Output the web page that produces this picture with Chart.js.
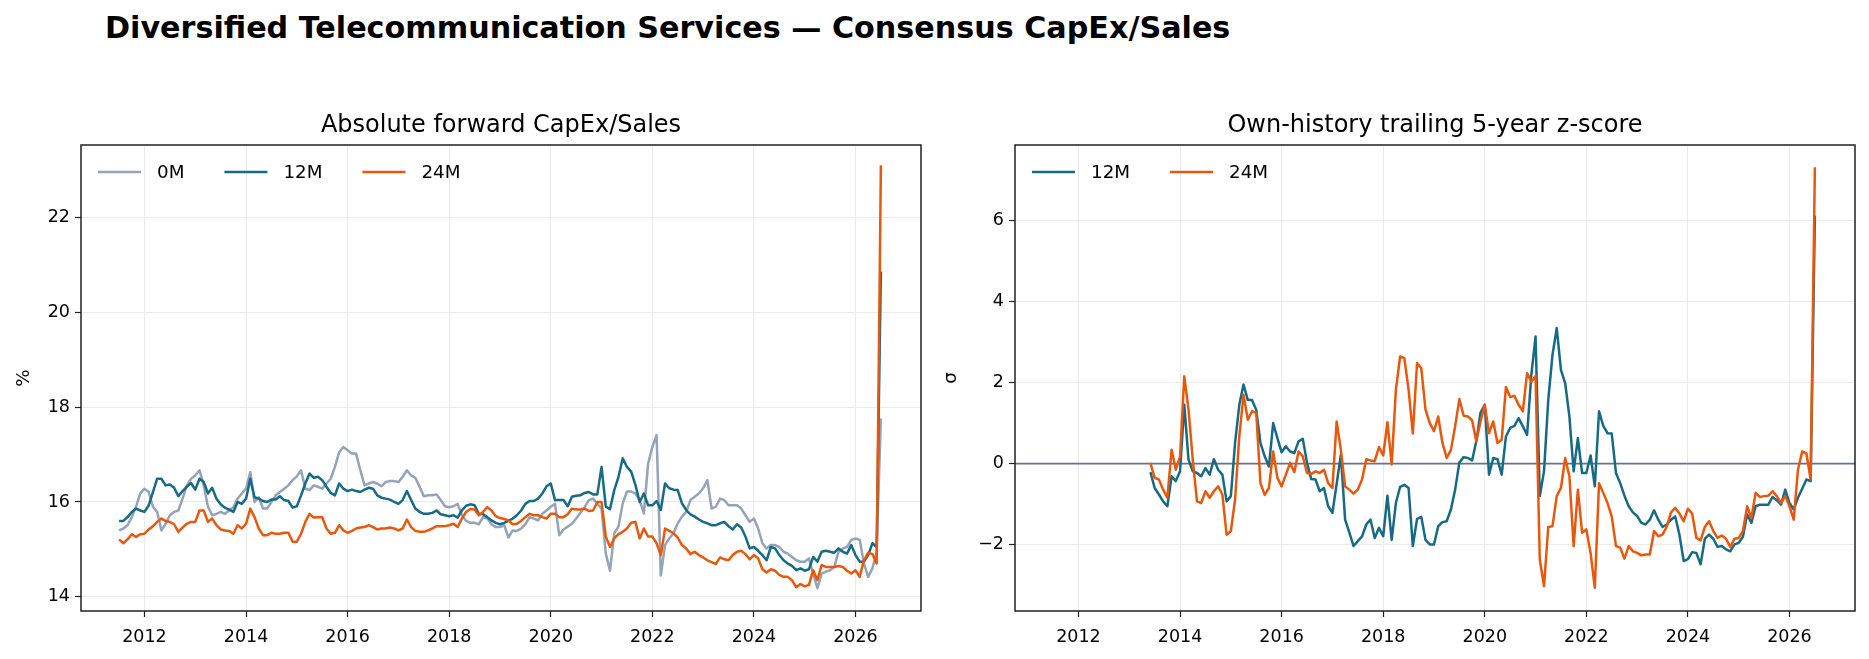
<!DOCTYPE html>
<html>
<head>
<meta charset="utf-8">
<script src="https://cdn.jsdelivr.net/npm/chart.js@4.4.1/dist/chart.umd.min.js"></script>
<style>
  body { margin: 0; background: #fff; width: 1869px; height: 659px; position: relative; overflow: hidden; font-family: "DejaVu Sans", sans-serif; }
  #suptitle { position: absolute; left: 105px; top: 10px; font-weight: bold; font-size: 30.2px; line-height: 35px; color: #000; white-space: nowrap; }
  canvas { position: absolute; top: 0; }
</style>
</head>
<body>
<div id="suptitle">Diversified Telecommunication Services — Consensus CapEx/Sales</div>
<canvas id="absChart" width="935" height="659" style="left:0"></canvas>
<canvas id="zChart" width="934" height="659" style="left:935px"></canvas>
<script>
// monthly observations, first one is Jul 2011
const firstMonth = 2011.5;

// absolute forward CapEx/Sales, %
const capex0M = [
  15.40, 15.44, 15.51, 15.68, 15.90, 16.18, 16.28, 16.21, 15.90, 15.79, 15.40, 15.54, 15.72, 15.79, 15.82, 16.07, 16.35, 16.49, 16.56, 16.67,
  16.35, 15.90, 15.72, 15.75, 15.79, 15.75, 15.82, 15.89, 16.07, 16.18, 16.28, 16.63, 16.00, 16.10, 15.86, 15.86, 16.00, 16.14, 16.21, 16.28,
  16.35, 16.46, 16.54, 16.67, 16.28, 16.25, 16.35, 16.32, 16.28, 16.39, 16.49, 16.74, 17.05, 17.16, 17.09, 17.02, 17.02, 16.67, 16.35, 16.39,
  16.42, 16.39, 16.33, 16.42, 16.44, 16.44, 16.42, 16.53, 16.67, 16.56, 16.51, 16.32, 16.12, 16.14, 16.14, 16.16, 16.04, 15.91, 15.89, 15.91,
  15.96, 15.72, 15.60, 15.56, 15.56, 15.53, 15.68, 15.65, 15.53, 15.47, 15.47, 15.51, 15.25, 15.40, 15.39, 15.44, 15.53, 15.68, 15.65, 15.61,
  15.75, 15.82, 15.90, 15.96, 15.30, 15.42, 15.48, 15.54, 15.65, 15.77, 15.89, 16.04, 16.07, 15.96, 15.86,
  14.91, 14.55, 15.34, 15.48, 15.97, 16.22, 16.22, 16.18, 16.04, 15.76, 16.81, 17.16, 17.41, 14.45, 15.09, 15.23, 15.34, 15.55, 15.69, 15.79,
  16.04, 16.11, 16.18, 16.29, 16.46, 15.86, 15.90, 16.07, 16.04, 15.93, 15.93, 15.93, 15.86, 15.72, 15.58, 15.65, 15.44, 15.13, 15.02, 15.09,
  15.09, 15.05, 14.95, 14.91, 14.84, 14.77, 14.74, 14.74, 14.81, 14.49, 14.18, 14.49, 14.53, 14.56, 14.63, 14.95, 15.02, 15.05, 15.20, 15.23,
  15.20, 14.70, 14.42, 14.60, 14.95, 17.76
];
const capex12M = [
  15.60, 15.60, 15.68, 15.79, 15.86, 15.82, 15.79, 15.93, 16.21, 16.49, 16.49, 16.35, 16.37, 16.30, 16.12, 16.23, 16.32, 16.40, 16.26, 16.49,
  16.42, 16.18, 16.30, 16.07, 15.95, 15.88, 15.84, 15.79, 16.00, 15.96, 16.07, 16.49, 16.10, 16.07, 16.02, 16.00, 16.05, 16.05, 16.12, 16.04,
  16.02, 15.88, 15.91, 16.14, 16.39, 16.60, 16.51, 16.53, 16.46, 16.32, 16.19, 16.14, 16.39, 16.28, 16.23, 16.26, 16.23, 16.21, 16.26, 16.30,
  16.28, 16.14, 16.09, 16.07, 16.05, 16.00, 15.96, 16.04, 16.23, 16.04, 15.86, 15.79, 15.75, 15.75, 15.77, 15.82, 15.74, 15.72, 15.70, 15.72,
  15.67, 15.82, 15.92, 15.95, 15.93, 15.75, 15.74, 15.68, 15.61, 15.56, 15.53, 15.56, 15.60, 15.65, 15.72, 15.82, 15.96, 16.02, 16.02, 16.07,
  16.18, 16.33, 16.39, 16.04, 16.04, 16.04, 15.91, 16.11, 16.13, 16.14, 16.19, 16.21, 16.16,
  16.16, 16.74, 15.90, 15.85, 16.25, 16.53, 16.92, 16.74, 16.64, 16.36, 16.00, 16.18, 15.93, 15.93, 16.02, 15.83, 16.39, 16.29, 16.26, 16.25,
  15.97, 15.83, 15.74, 15.69, 15.63, 15.58, 15.55, 15.51, 15.51, 15.55, 15.58, 15.49, 15.42, 15.53, 15.46, 15.27, 15.02, 15.05, 14.97, 14.88,
  14.77, 15.05, 15.02, 14.88, 14.77, 14.70, 14.65, 14.56, 14.60, 14.55, 14.58, 14.84, 14.74, 14.95, 14.97, 14.95, 14.93, 15.02, 14.95, 14.91,
  15.09, 14.88, 14.74, 14.74, 14.88, 15.13, 15.05, 20.86
];
const capex24M = [
  15.21, 15.13, 15.21, 15.32, 15.26, 15.32, 15.33, 15.42, 15.49, 15.58, 15.65, 15.60, 15.58, 15.53, 15.37, 15.46, 15.54, 15.58, 15.58, 15.82,
  15.82, 15.58, 15.65, 15.51, 15.42, 15.40, 15.39, 15.33, 15.51, 15.44, 15.54, 15.86, 15.68, 15.44, 15.30, 15.30, 15.35, 15.33, 15.33, 15.35,
  15.35, 15.16, 15.16, 15.33, 15.58, 15.75, 15.67, 15.68, 15.68, 15.44, 15.33, 15.35, 15.51, 15.40, 15.35, 15.39, 15.44, 15.46, 15.47, 15.51,
  15.47, 15.42, 15.44, 15.44, 15.46, 15.44, 15.40, 15.44, 15.63, 15.47, 15.39, 15.37, 15.37, 15.40, 15.44, 15.49, 15.49, 15.49, 15.51, 15.54,
  15.47, 15.65, 15.79, 15.85, 15.84, 15.72, 15.79, 15.89, 15.82, 15.70, 15.66, 15.64, 15.61, 15.53, 15.54, 15.60, 15.68, 15.75, 15.72, 15.72,
  15.68, 15.65, 15.75, 15.75, 15.68, 15.68, 15.74, 15.86, 15.84, 15.84, 15.86, 15.81, 15.82, 16.00, 16.00,
  15.27, 15.05, 15.23, 15.32, 15.37, 15.44, 15.56, 15.58, 15.23, 15.44, 15.27, 15.27, 15.13, 14.88, 15.44, 15.39, 15.34, 15.25, 15.09, 15.02,
  14.90, 14.95, 14.88, 14.83, 14.77, 14.73, 14.69, 14.83, 14.79, 14.77, 14.88, 14.95, 14.97, 14.90, 14.79, 14.88, 14.81, 14.58, 14.51, 14.58,
  14.55, 14.46, 14.42, 14.42, 14.35, 14.20, 14.27, 14.22, 14.25, 14.56, 14.35, 14.67, 14.63, 14.63, 14.63, 14.65, 14.63, 14.55, 14.49, 14.56,
  14.42, 14.77, 14.93, 14.90, 14.70, 23.10
];

// trailing 5-year z-score, needs 24 months of history before the first value
const zWarmup = 23;
const z12M = [
  -0.21, -0.60, -0.76, -0.93, -1.05, -0.31, -0.43, -0.19, 1.45, 0.10, -0.19, -0.23, -0.31, -0.11, -0.27, 0.11, -0.15, -0.27, -0.93, -0.80,
  0.51, 1.45, 1.95, 1.57, 1.57, 1.33, 0.51, 0.18, -0.07, 1.00, 0.63, 0.28, 0.43, 0.30, 0.26, 0.55, 0.61, 0.02, -0.38, -0.39,
  -0.68, -0.60, -1.05, -1.21, -0.50, 0.22, -1.38, -1.70, -2.03, -1.91, -1.79, -1.50, -1.38, -1.83, -1.58, -1.79, -0.79, -1.88, -0.97, -0.57,
  -0.52, -0.60, -2.03, -1.36, -1.31, -1.88, -1.99, -1.99, -1.54, -1.44, -1.42, -1.13, -0.64, 0.03, 0.16, 0.14, 0.08, 0.55, 1.26, 1.45,
  -0.27, 0.14,
  0.11, -0.27, 0.67, 0.88, 0.93, 1.12, 0.92, 0.71, 2.19, 3.13, -0.80, -0.19, 1.57, 2.68, 3.34, 2.31, 1.98, 1.16, -0.19, 0.63,
  -0.23, -0.23, 0.20, -0.56, 1.29, 0.93, 0.75, 0.74, -0.23, -0.48, -0.79, -1.05, -1.20, -1.29, -1.46, -1.50, -1.38, -1.15, -1.38, -1.56,
  -1.50,
  -1.38, -1.30, -1.75, -2.40, -2.35, -2.18, -2.20, -2.48, -1.85, -1.75, -1.85, -2.05, -2.03, -2.11, -2.16, -1.99, -1.95, -1.80, -1.25, -1.46,
  -1.05, -1.01, -1.01, -1.01, -0.82, -0.90, -1.01, -0.64, -0.97, -1.13, -0.84, -0.62, -0.39, -0.43, 6.11
];
const z24M = [
  0.02, -0.35, -0.39, -0.64, -0.84, 0.34, -0.15, 0.18, 2.15, 1.33, 0.10, -0.93, -0.97, -0.68, -0.84, -0.68, -0.56, -0.76, -1.75, -1.66,
  -0.89, 0.67, 1.70, 1.08, 1.29, 1.25, -0.48, -0.77, -0.60, 0.30, -0.35, -0.56, -0.27, 0.02, -0.21, 0.30, 0.18, -0.23, -0.25, -0.19,
  -0.23, -0.15, -0.48, -0.60, 1.04, 0.34, -0.56, -0.64, -0.74, -0.64, -0.39, 0.11, 0.08, 0.06, 0.41, 0.20, 1.02, -0.02, 1.82, 2.64,
  2.60, 1.82, 0.74, 2.48, 2.35, 1.33, 1.00, 0.80, 1.16, 0.51, 0.14, 0.34, 0.92, 1.59, 1.18, 1.16, 1.07, 0.55, 1.04, 1.45,
  0.75, 1.04,
  0.51, 0.59, 1.89, 1.64, 1.67, 1.45, 1.29, 2.23, 2.02, 2.16, -2.36, -3.02, -1.56, -1.54, -0.80, -0.60, 0.14, -0.31, -2.03, -0.64,
  -1.70, -1.62, -2.20, -3.06, -0.48, -0.72, -0.97, -1.30, -2.03, -2.07, -2.34, -2.03, -2.16, -2.20, -2.26, -2.24, -2.24, -1.66, -1.79, -1.75,
  -1.55,
  -1.20, -1.09, -1.23, -1.42, -1.11, -1.23, -1.83, -1.89, -1.56, -1.42, -1.66, -1.83, -1.77, -1.85, -2.05, -1.85, -1.83, -1.66, -1.05, -1.34,
  -0.72, -0.82, -0.80, -0.79, -0.68, -0.80, -0.97, -0.80, -1.05, -1.38, -0.15, 0.30, 0.25, -0.39, 7.30
];

// axis ticks
const yearTicks = [2012, 2014, 2016, 2018, 2020, 2022, 2024, 2026];
const pctTicks = [14, 16, 18, 20, 22];
const sigmaTicks = [-2, 0, 2, 4, 6];

const COLORS = { '0M': '#94a3b8', '12M': '#176a83', '24M': '#e8580c' };
const FONT = 'DejaVu Sans';
const TICK_SIZE = 17.5;
const LABEL_SIZE = 18.3;

Chart.defaults.font.family = FONT;
Chart.defaults.color = '#000';

// month series -> {x: decimal year, y}
function toPoints(values, offset) {
  offset = offset || 0;
  return values.map((v, i) => ({ x: firstMonth + (i + offset) / 12, y: v }));
}

// frame, subplot title, y label, inside legend, zero line
const decor = {
  id: 'decor',
  beforeDatasetsDraw(chart, args, o) {
    if (!o.zeroLine) return;
    const { ctx, chartArea: a, scales } = chart;
    const y = scales.y.getPixelForValue(0);
    ctx.save();
    ctx.strokeStyle = '#64748b';
    ctx.lineWidth = 1.6;
    ctx.beginPath();
    ctx.moveTo(a.left, y);
    ctx.lineTo(a.right, y);
    ctx.stroke();
    ctx.restore();
  },
  afterDraw(chart, args, o) {
    const { ctx, chartArea: a } = chart;
    ctx.save();
    // axes box
    ctx.strokeStyle = '#222';
    ctx.lineWidth = 1.5;
    ctx.strokeRect(a.left, a.top, a.right - a.left, a.bottom - a.top);

    // subplot title
    ctx.fillStyle = '#000';
    ctx.font = '24px "' + FONT + '"';
    ctx.textAlign = 'center';
    ctx.textBaseline = 'middle';
    ctx.fillText(o.title, (a.left + a.right) / 2, a.top - 19);

    // y label
    ctx.font = LABEL_SIZE + 'px "' + FONT + '"';
    ctx.save();
    ctx.translate(a.left + o.ylabelOffset, (a.top + a.bottom) / 2);
    ctx.rotate(-Math.PI / 2);
    ctx.fillText(o.ylabel, 0, 0);
    ctx.restore();

    // legend, one row, upper left
    ctx.textAlign = 'left';
    let x = a.left + 17;
    const y = a.top + 27;
    chart.data.datasets.forEach(ds => {
      ctx.strokeStyle = ds.borderColor;
      ctx.lineWidth = 2.6;
      ctx.beginPath();
      ctx.moveTo(x, y);
      ctx.lineTo(x + 43, y);
      ctx.stroke();
      ctx.fillText(ds.label, x + 59, y + 1);
      x += 59 + ctx.measureText(ds.label).width + 40;
    });
    ctx.restore();
  }
};

function lineDataset(label, points, order) {
  return {
    label: label,
    data: points,
    borderColor: COLORS[label],
    backgroundColor: COLORS[label],
    borderWidth: 2.5,
    pointRadius: 0,
    tension: 0,
    spanGaps: false,
    borderJoinStyle: 'round',
    order: order
  };
}

function axisOptions(min, max, ticks, fmt, fitKey, fitSize, pad) {
  return {
    type: 'linear',
    min: min,
    max: max,
    afterBuildTicks: s => { s.ticks = ticks.map(v => ({ value: v })); },
    afterFit: s => { s[fitKey] = fitSize; },
    ticks: {
      autoSkip: false,
      maxRotation: 0,
      padding: pad,
      color: '#000',
      font: { size: TICK_SIZE },
      callback: fmt
    },
    grid: { color: '#ebebeb', lineWidth: 1, tickColor: '#222', tickLength: 6, tickWidth: 1.2 },
    border: { display: false }
  };
}

const yearFmt = v => String(v);
const numFmt = v => (v < 0 ? '\u2212' + Math.abs(v) : String(v));

function makeChart(id, datasets, yMin, yMax, yTicks, yWidth, plug) {
  return new Chart(document.getElementById(id), {
    type: 'line',
    data: { datasets: datasets },
    options: {
      responsive: false,
      animation: false,
      devicePixelRatio: 1,
      layout: { padding: { top: 145, right: 14, left: 0, bottom: 0 } },
      scales: {
        x: axisOptions(2010.75, 2027.29, yearTicks, yearFmt, 'height', 48, 10),
        y: axisOptions(yMin, yMax, yTicks, numFmt, 'width', yWidth, 5)
      },
      plugins: {
        legend: { display: false },
        tooltip: { enabled: false },
        decor: plug
      }
    },
    plugins: [decor]
  });
}

makeChart('absChart', [
  lineDataset('0M', toPoints(capex0M), 2),
  lineDataset('12M', toPoints(capex12M), 1),
  lineDataset('24M', toPoints(capex24M), 0)
], 13.7, 23.53, pctTicks, 81, { title: 'Absolute forward CapEx/Sales', ylabel: '%', ylabelOffset: -57 });

makeChart('zChart', [
  lineDataset('12M', toPoints(z12M, zWarmup), 1),
  lineDataset('24M', toPoints(z24M, zWarmup), 0)
], -3.63, 7.85, sigmaTicks, 80, { title: 'Own-history trailing 5-year z-score', ylabel: 'σ', ylabelOffset: -64, zeroLine: true });
</script>
</body>
</html>
